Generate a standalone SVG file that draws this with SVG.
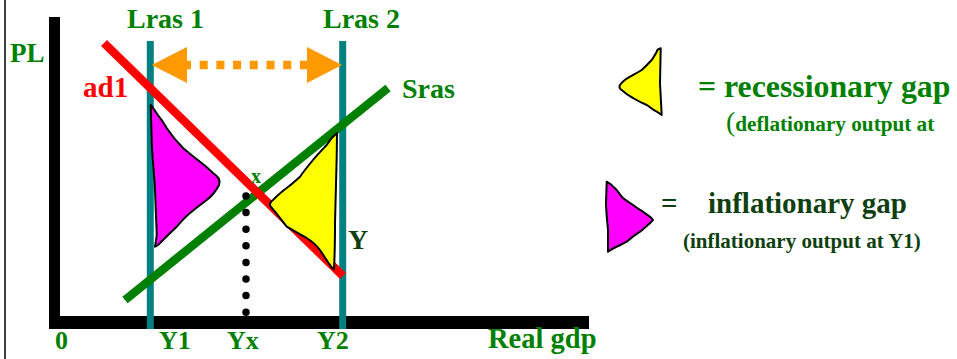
<svg xmlns="http://www.w3.org/2000/svg" width="957" height="359" viewBox="0 0 957 359">
<style>
text{font-family:"Liberation Serif","Times New Roman",serif;font-weight:bold}
.g{fill:#008000}
.dg{fill:#0f3f0f}
.teal{stroke:#008080;stroke-width:7}
.shape{stroke:#000;stroke-width:2;stroke-linejoin:round}
.mag{fill:#ff00ff}
.yel{fill:#ffff00}
.or{fill:#ff9900}
</style>
<rect width="957" height="359" fill="#fff"/>
<line x1="5" y1="0" x2="5" y2="359" stroke="#000" stroke-width="1.5"/>
<g id="axes">
<rect x="49" y="17" width="11" height="312" fill="#000"/>
<rect x="49" y="316" width="540" height="13" fill="#000"/>
<text class="g" x="10" y="62" font-size="27">PL</text>
<text class="g" x="55" y="349" font-size="26">0</text>
<text class="g" x="159" y="349" font-size="26">Y1</text>
<text class="g" x="227" y="349" font-size="26">Yx</text>
<text class="g" x="317" y="349" font-size="26">Y2</text>
<text class="g" x="488" y="348" font-size="28.5">Real gdp</text>
</g>
<g id="lras1">
<line class="teal" x1="150.3" y1="41" x2="150.3" y2="329"/>
<text class="g" x="127" y="28" font-size="28">Lras 1</text>
</g>
<g id="lras2">
<line class="teal" x1="342.7" y1="41" x2="342.7" y2="329"/>
<text class="g" x="323" y="28" font-size="28">Lras 2</text>
</g>
<g id="sras">
<line x1="125" y1="300" x2="388" y2="88" stroke="#008000" stroke-width="8.5"/>
<text class="g" x="402" y="98" font-size="28">Sras</text>
</g>
<g id="ad1">
<line x1="104" y1="43" x2="343" y2="276" stroke="#ff0000" stroke-width="8.5"/>
<text x="83" y="97" font-size="29" fill="#ff0000">ad1</text>
</g>
<g id="inflationary-gap">
<path class="shape mag" d="M150.7,105 C155,110 158,116 161.7,120 L166.7,128 C172,136 178,143 183,148 C190,154 195,158 200,161.7 C206,166 210,170 213,173 C217,176 221,179 219,185 C216,191 212,196 206.7,200 C200,205 195,209 190,213 C184,218 180,223 176.7,226.7 C170,233 167,236 163,240 C160,243 158,246 155,246.7 C156,240 157,236 156.7,233 L155,190 C154,170 152,155 151.7,140 Z"/>
</g>
<g id="recessionary-gap">
<path class="shape yel" d="M337,133 C332,137 329,141 326.7,145 C321,151 317,155 313,160 C308,166 304,171 300,176.7 C295,181 291,185 286.7,188 C281,192 277,196 273,200 C270,202 269,205 271,207 C273,209 274,211 275,211.7 C280,218 283,222 286.7,226.7 C294,231 300,234 306.7,238 C313,242 317,246 320,250 C324,256 327,261 330,265 C331,267 332,268 334,269 C335,250 335,238 335,223 L336.7,156.7 Z"/>
</g>
<g id="equilibrium">
<text class="g" x="251" y="183" font-size="20">x</text>
<text class="dg" x="348" y="249" font-size="28">Y</text>
</g>
<g id="connectors">
<line x1="183" y1="65" x2="308" y2="65" stroke="#ff9900" stroke-width="8.5" stroke-dasharray="8 8.7"/>
<polygon class="or" points="151.7,65 187,47 187,83"/>
<polygon class="or" points="342,65 307,47 307,83"/>
<line x1="246" y1="196" x2="246" y2="313" stroke="#000" stroke-width="7.5" stroke-linecap="round" stroke-dasharray="0 16.6"/>
</g>
<g id="legend-recessionary">
<path class="shape yel" d="M660.7,48.3 C658,49 657,50 656.7,51.7 C655,55 653,58 651.7,60 C648,64 645,67 641.7,70 C637,73 633,75 630,76.7 C626,79 622,82 620,85 C619,87 620,89 621.7,90 C625,93 629,96 633,98 C638,101 642,103 646.7,105 C650,107 653,110 656.7,111.7 C659,113 660,114 661.7,115 L660,83.3 Z"/>
<text class="g" x="698" y="97" font-size="31.8">= recessionary gap</text>
<text class="g" x="726" y="131" font-size="21.2"><tspan font-size="28" font-weight="normal">(</tspan>deflationary output at</text>
</g>
<g id="legend-inflationary">
<path class="shape mag" d="M606.7,181.7 C609,183 610,184 611.7,185 C613,187 615,188 616.7,190 C619,193 621,196 623,198 C627,201 630,203 633,205 C637,208 640,210 643,211.7 C646,214 649,216 651.7,218.3 L653,220 C652,221 651,222 650,223 C647,226 643,229 640,231.7 C635,235 631,238 626.7,241.7 C623,244 620,245 616.7,246.7 C613,248 611,250 608,251.7 L608,230 C607,220 606,210 606,203 Z"/>
<text class="dg" x="661" y="213" font-size="29">=</text>
<text class="dg" x="708" y="213" font-size="29">inflationary gap</text>
<text class="dg" x="683" y="248" font-size="21">(inflationary output at Y1)</text>
</g>
</svg>
